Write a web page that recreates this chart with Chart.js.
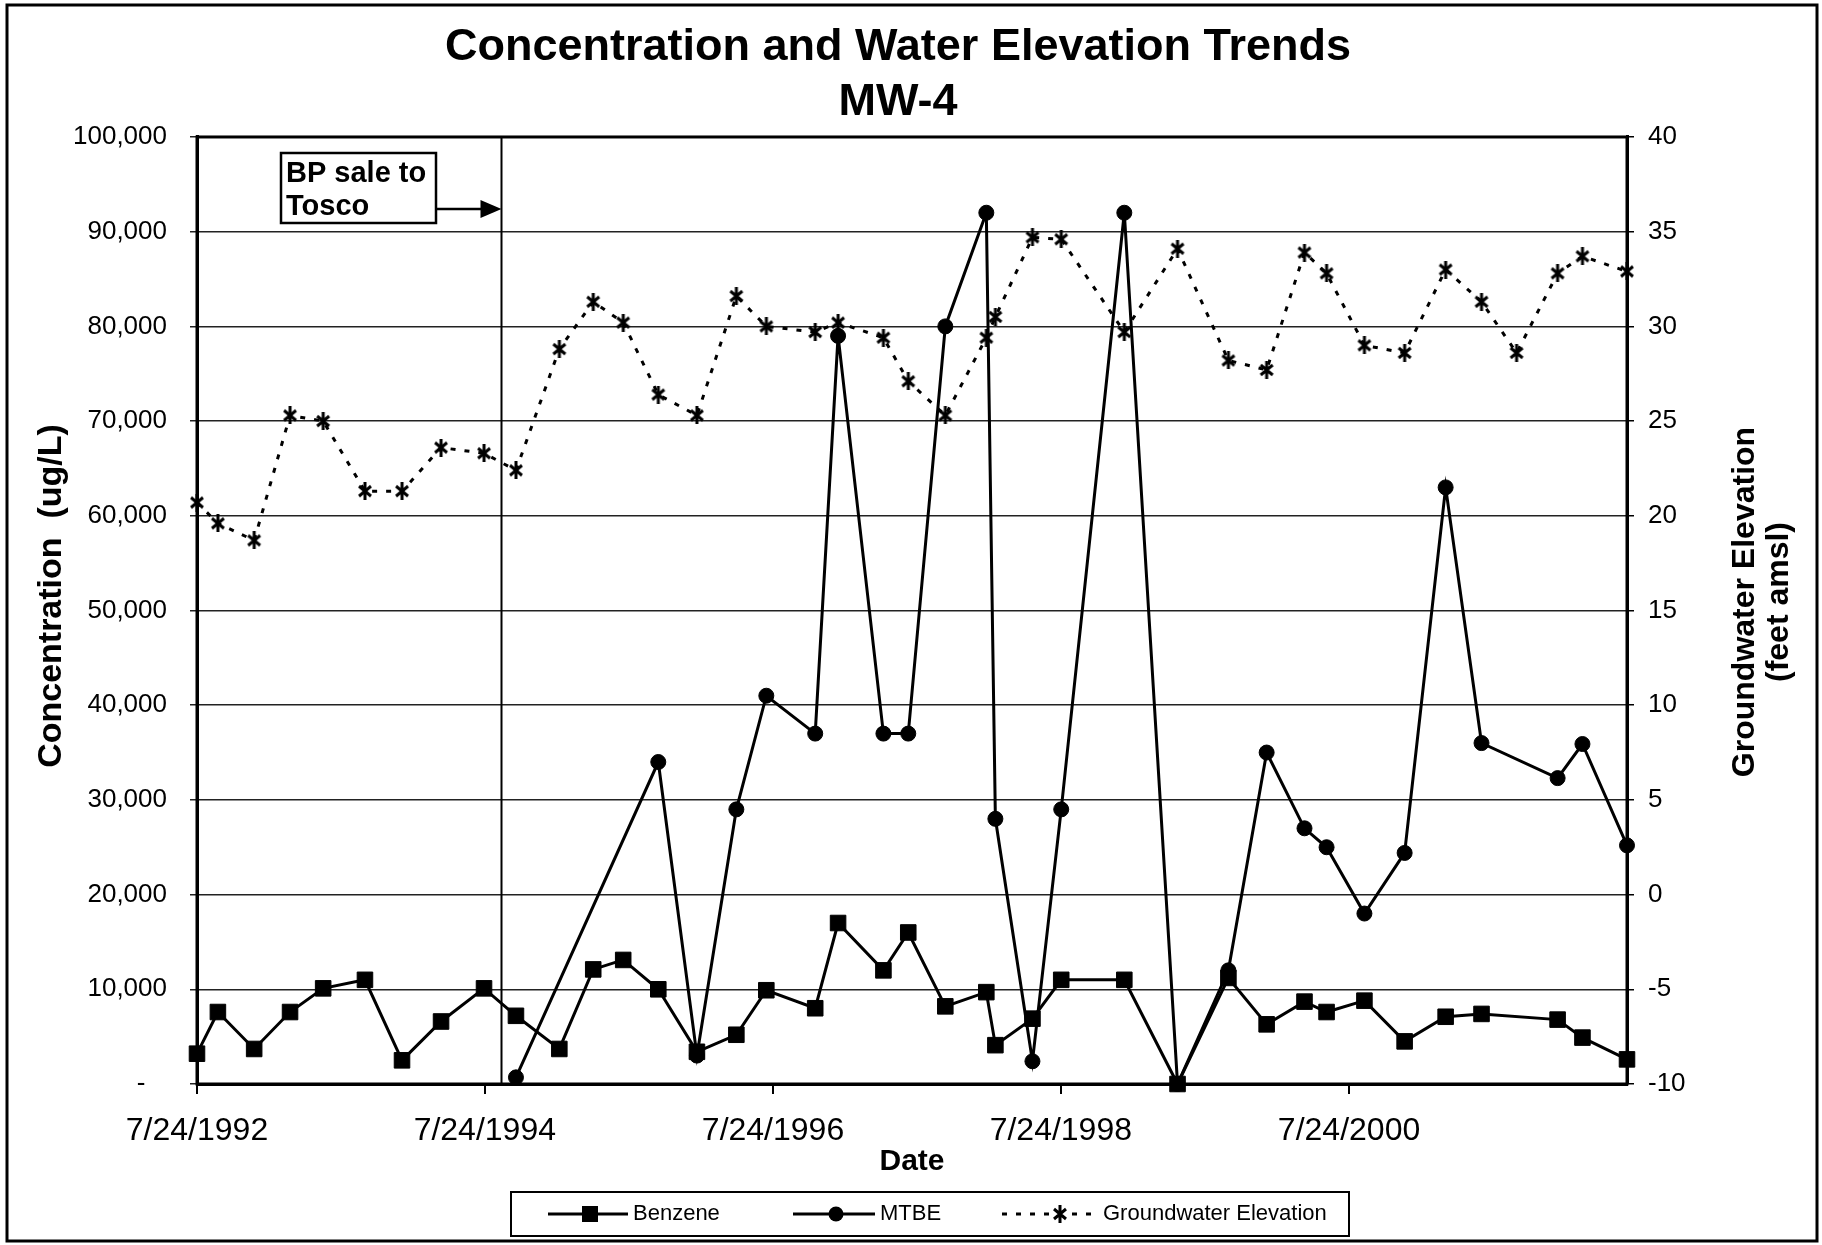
<!DOCTYPE html>
<html>
<head>
<meta charset="utf-8">
<title>Concentration and Water Elevation Trends - MW-4</title>
<script src="https://cdn.jsdelivr.net/npm/chart.js@4.4.0/dist/chart.umd.min.js"></script>
<style>
    html, body { margin: 0; padding: 0; background: #ffffff; }
    #wrap { width: 1822px; height: 1245px; }
</style>
</head>
<body>
<div id="wrap"><canvas id="mw4Chart" width="1822" height="1245"></canvas></div>
<script>
'use strict';

// ── Data ─────────────────────────────────────────────────────────────────────
var sampleDates = [
    '1992-07-24', '1992-09-15', '1992-12-16', '1993-03-17', '1993-06-09',
    '1993-09-23', '1993-12-26', '1994-04-04', '1994-07-22', '1994-10-11',
    '1995-01-29', '1995-04-25', '1995-07-10', '1995-10-07', '1996-01-13',
    '1996-04-22', '1996-07-07', '1996-11-08', '1997-01-05', '1997-04-30',
    '1997-07-02', '1997-10-04', '1998-01-16', '1998-02-08', '1998-05-13',
    '1998-07-25', '1999-01-01', '1999-05-16', '1999-09-22', '1999-12-28',
    '2000-04-02', '2000-05-28', '2000-09-01', '2000-12-12', '2001-03-26',
    '2001-06-25', '2001-09-22', '2002-01-04', '2002-03-08', '2002-06-29'
];

// ug/L
var benzene = [
    3200, 7600, 3700, 7600, 10100, 11000, 2500, 6600, 10100, 7200,
    3700, 12100, 13100, 10000, 3400, 5200, 9900, 8000, 17000, 12000,
    16000, 8200, 9700, 4100, 6900, 11000, 11000, 0, 11200, 6300,
    8700, 7600, 8800, 4500, 7100, 7400, null, 6800, 4900, 2600
];

// ug/L
var mtbe = [
    null, null, null, null, null, null, null, null, null, 700,
    null, null, null, 34000, 3000, 29000, 41000, 37000, 79000, 37000,
    37000, 80000, 92000, 28000, 2400, 29000, 92000, 0, 12000, 35000,
    27000, 25000, 18000, 24400, 63000, 36000, null, 32300, 35900, 25200
];

// feet amsl
var gwElev = [
    20.7, 19.6, 18.7, 25.3, 25.0, 21.3, 21.3, 23.6, 23.3, 22.4,
    28.8, 31.3, 30.2, 26.4, 25.3, 31.6, 30.0, 29.7, 30.2, 29.4,
    27.1, 25.3, 29.4, 30.5, 34.7, 34.6, 29.7, 34.1, 28.2, 27.7,
    33.9, 32.8, 29.0, 28.6, 33.0, 31.3, 28.6, 32.8, 33.7, 32.9
];

var xTickDates = ['1992-07-24', '1994-07-24', '1996-07-24', '1998-07-24', '2000-07-24'];
var saleDate   = '1994-09-03';   // BP sale to Tosco

// ── Helpers ──────────────────────────────────────────────────────────────────
var FONT = "'Liberation Sans', Arial, sans-serif";
var GW_DASH = [5, 9];

function toDay(s) {
    var p = s.split('-');
    return Date.UTC(+p[0], +p[1] - 1, +p[2]) / 86400000;
}

function fmtDate(day) {
    var d = new Date(Math.round(day) * 86400000);
    return (d.getUTCMonth() + 1) + '/' + d.getUTCDate() + '/' + d.getUTCFullYear();
}

function toPoints(values) {
    return sampleDates.map(function (s, i) {
        return { x: toDay(s), y: values[i] };
    });
}

// asterisk marker like Excel's "star" (X + vertical bar)
function makeStar(size, lw) {
    var c = document.createElement('canvas');
    c.width = size; c.height = size;
    var g = c.getContext('2d');
    var m = lw;
    g.strokeStyle = '#000';
    g.lineWidth = lw;
    g.beginPath();
    g.moveTo(m, m + 1);            g.lineTo(size - m, size - m - 1);
    g.moveTo(size - m, m + 1);     g.lineTo(m, size - m - 1);
    g.moveTo(size / 2, 0);         g.lineTo(size / 2, size);
    g.stroke();
    return c;
}

var starImg = makeStar(18, 3);
var xTickDays = xTickDates.map(toDay);

Chart.defaults.font.family = FONT;
Chart.defaults.color = '#000';

// ── Extra drawing: frame, sale line + note, axis titles, legend ─────────────
var decorPlugin = {
    id: 'mw4Decor',
    afterDraw: function (chart) {
        var ctx = chart.ctx;
        var a = chart.chartArea;
        var xs = chart.scales.x;
        ctx.save();

        // plot frame
        ctx.strokeStyle = '#000';
        ctx.lineWidth = 3;
        ctx.strokeRect(a.left, a.top, a.right - a.left, a.bottom - a.top);

        // BP sale line
        var sx = Math.round(xs.getPixelForValue(toDay(saleDate))) + 0.5;
        ctx.lineWidth = 2;
        ctx.beginPath();
        ctx.moveTo(sx, a.top);
        ctx.lineTo(sx, a.bottom);
        ctx.stroke();

        // note box + arrow
        ctx.lineWidth = 2.5;
        ctx.fillStyle = '#fff';
        ctx.fillRect(281, 153, 155, 70);
        ctx.strokeRect(281, 153, 155, 70);
        ctx.fillStyle = '#000';
        ctx.font = 'bold 29px ' + FONT;
        ctx.textAlign = 'left';
        ctx.textBaseline = 'middle';
        ctx.fillText('BP sale to', 286, 174);
        ctx.fillText('Tosco', 286, 207);

        ctx.beginPath();
        ctx.moveTo(436, 209);
        ctx.lineTo(sx - 20, 209);
        ctx.stroke();
        ctx.beginPath();
        ctx.moveTo(sx - 21, 200);
        ctx.lineTo(sx, 209);
        ctx.lineTo(sx - 21, 218);
        ctx.closePath();
        ctx.fill();

        // left axis title
        ctx.save();
        ctx.translate(52, 596);
        ctx.rotate(-Math.PI / 2);
        ctx.font = 'bold 34px ' + FONT;
        ctx.textAlign = 'center';
        ctx.textBaseline = 'middle';
        ctx.fillText('Concentration  (ug/L)', 0, 0);
        ctx.restore();

        // right axis title (reads bottom to top)
        ctx.save();
        ctx.translate(1762, 602);
        ctx.rotate(-Math.PI / 2);
        ctx.font = 'bold 32px ' + FONT;
        ctx.textAlign = 'center';
        ctx.textBaseline = 'middle';
        ctx.fillText('Groundwater Elevation', 0, -17);
        ctx.fillText('(feet amsl)', 0, 17);
        ctx.restore();

        // legend
        var ly = 1214;
        ctx.lineWidth = 2;
        ctx.strokeRect(511, 1192, 838, 44);
        ctx.font = '22px ' + FONT;
        ctx.textAlign = 'left';
        ctx.textBaseline = 'middle';

        ctx.lineWidth = 3;
        ctx.beginPath(); ctx.moveTo(548, ly); ctx.lineTo(628, ly); ctx.stroke();
        ctx.fillRect(582, ly - 8, 16, 16);
        ctx.fillText('Benzene', 633, ly);

        ctx.beginPath(); ctx.moveTo(793, ly); ctx.lineTo(875, ly); ctx.stroke();
        ctx.beginPath(); ctx.arc(836, ly, 7.5, 0, Math.PI * 2); ctx.fill();
        ctx.fillText('MTBE', 880, ly);

        ctx.setLineDash(GW_DASH);
        ctx.beginPath(); ctx.moveTo(1002, ly); ctx.lineTo(1098, ly); ctx.stroke();
        ctx.setLineDash([]);
        ctx.fillStyle = '#fff';
        ctx.fillRect(1050, ly - 9, 20, 18);
        ctx.drawImage(starImg, 1060 - 9, ly - 9);
        ctx.fillStyle = '#000';
        ctx.fillText('Groundwater Elevation', 1103, ly);

        // outer frame
        ctx.lineWidth = 3;
        ctx.strokeRect(7, 5, 1810, 1236);
        ctx.restore();
    }
};

// ── Chart ────────────────────────────────────────────────────────────────────
new Chart(document.getElementById('mw4Chart').getContext('2d'), {
    type: 'line',
    data: {
        datasets: [
            {
                label: 'Benzene',
                data: toPoints(benzene),
                yAxisID: 'yConc',
                borderColor: '#000',
                backgroundColor: '#000',
                borderWidth: 3,
                pointStyle: 'rect',
                pointRadius: 11,
                pointBorderWidth: 1,
                spanGaps: true,
                clip: false
            },
            {
                label: 'MTBE',
                data: toPoints(mtbe),
                yAxisID: 'yConc',
                borderColor: '#000',
                backgroundColor: '#000',
                borderWidth: 3,
                pointStyle: 'circle',
                pointRadius: 7.5,
                pointBorderWidth: 1,
                spanGaps: true,
                clip: false
            },
            {
                label: 'Groundwater Elevation',
                data: toPoints(gwElev),
                yAxisID: 'yElev',
                borderColor: '#000',
                backgroundColor: '#000',
                borderWidth: 3,
                borderDash: GW_DASH,
                pointStyle: starImg,
                pointRadius: 9,
                spanGaps: true,
                clip: false
            }
        ]
    },
    options: {
        responsive: false,
        animation: false,
        devicePixelRatio: 1,
        layout: { padding: { left: 0, right: 26, top: 0, bottom: 0 } },
        plugins: {
            legend: { display: false },
            tooltip: { enabled: false },
            title: {
                display: true,
                text: ['Concentration and Water Elevation Trends', 'MW-4'],
                color: '#000',
                font: { size: 45, weight: 'bold', lineHeight: 1.222 },
                padding: { top: 20, bottom: 7 }
            }
        },
        scales: {
            x: {
                type: 'linear',
                position: 'bottom',
                min: toDay(sampleDates[0]),
                max: toDay(sampleDates[sampleDates.length - 1]),
                afterBuildTicks: function (scale) {
                    scale.ticks = xTickDays.map(function (v) { return { value: v }; });
                },
                afterFit: function (scale) { scale.height = 161; },
                ticks: {
                    autoSkip: false,
                    maxRotation: 0,
                    padding: 18,
                    font: { size: 32 },
                    callback: function (v) { return fmtDate(v); }
                },
                grid: { drawOnChartArea: false, drawTicks: true, tickLength: 10, color: '#000', lineWidth: 2 },
                border: { display: true, width: 3, color: '#000' },
                title: {
                    display: true,
                    text: 'Date',
                    font: { size: 30, weight: 'bold' },
                    padding: { top: 0, bottom: 65 }
                }
            },
            yConc: {
                type: 'linear',
                position: 'left',
                min: 0,
                max: 100000,
                afterFit: function (scale) { scale.width = 197; },
                ticks: {
                    stepSize: 10000,
                    padding: 23,
                    font: { size: 26 },
                    callback: function (v) {
                        return v === 0 ? '-   ' : v.toLocaleString('en-US');
                    }
                },
                grid: { color: '#222', lineWidth: 1.5, tickLength: 7 },
                border: { display: true, width: 3, color: '#000' }
            },
            yElev: {
                type: 'linear',
                position: 'right',
                min: -10,
                max: 40,
                afterFit: function (scale) { scale.width = 169; },
                ticks: { stepSize: 5, padding: 14, font: { size: 26 } },
                grid: { drawOnChartArea: false, color: '#000', lineWidth: 1.5, tickLength: 7 },
                border: { display: true, width: 3, color: '#000' }
            }
        }
    },
    plugins: [decorPlugin]
});
</script>
</body>
</html>
